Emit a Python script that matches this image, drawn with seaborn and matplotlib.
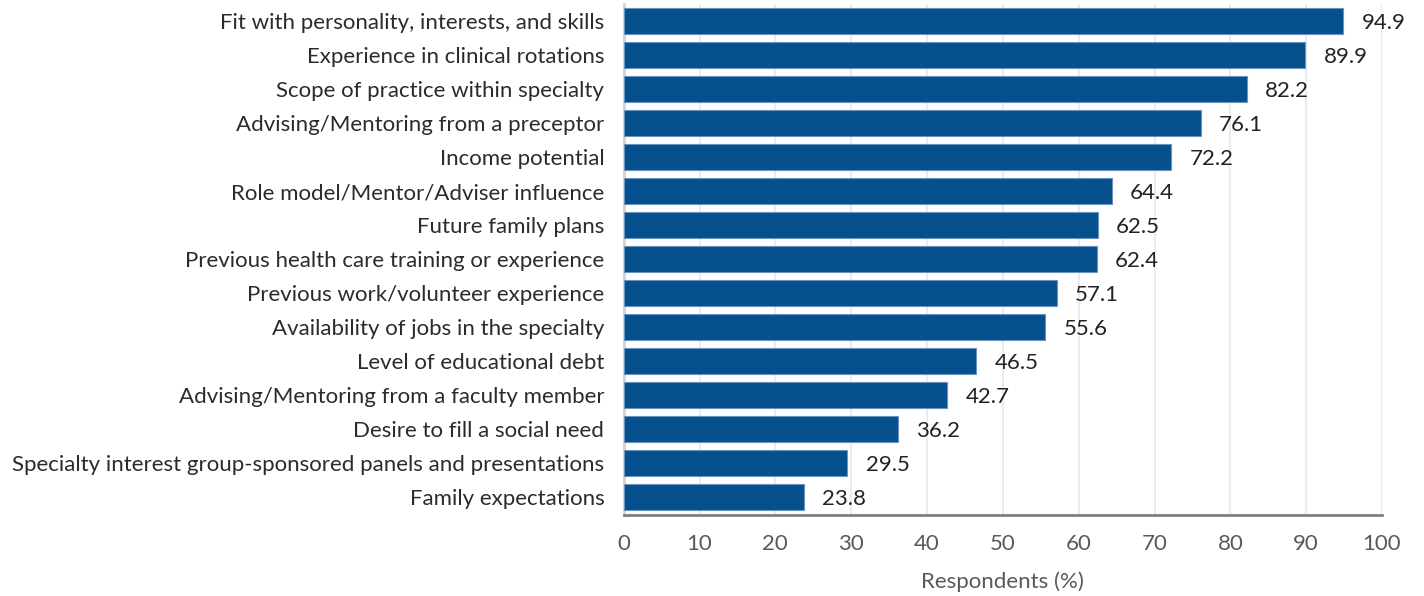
import matplotlib
matplotlib.use("Agg")
import matplotlib.pyplot as plt
import seaborn as sns
import pandas as pd

factors = [
    "Fit with personality, interests, and skills",
    "Experience in clinical rotations",
    "Scope of practice within specialty",
    "Advising/Mentoring from a preceptor",
    "Income potential",
    "Role model/Mentor/Adviser influence",
    "Future family plans",
    "Previous health care training or experience",
    "Previous work/volunteer experience",
    "Availability of jobs in the specialty",
    "Level of educational debt",
    "Advising/Mentoring from a faculty member",
    "Desire to fill a social need",
    "Specialty interest group-sponsored panels and presentations",
    "Family expectations",
]
respondents_pct = [94.9, 89.9, 82.2, 76.1, 72.2, 64.4, 62.5, 62.4, 57.1, 55.6,
                   46.5, 42.7, 36.2, 29.5, 23.8]
x_ticks = [0, 10, 20, 30, 40, 50, 60, 70, 80, 90, 100]
x_label = "Respondents (%)"

df = pd.DataFrame({"factor": factors, "pct": respondents_pct})

sns.set_theme(style="white")
plt.rcParams["font.family"] = ["Lato", "DejaVu Sans"]

fig = plt.figure(figsize=(14.24, 5.96), dpi=100)
ax = fig.add_axes([0.438, 0.136, 0.9705 - 0.438, 0.857])

bar_color = "#05508d"
sns.barplot(data=df, x="pct", y="factor", orient="h", color=bar_color,
            saturation=1, width=0.77, edgecolor="#6a93bf", linewidth=0.8,
            ax=ax, zorder=3)

for patch, val in zip(ax.patches, respondents_pct):
    y = patch.get_y() + patch.get_height() / 2
    ax.text(val + 2.4, y + 0.05, f"{val:.1f}", va="center", ha="left",
            fontsize=16, color="#222222")

ax.set_xlim(0, 100)
ax.set_ylim(len(factors) - 0.47, -0.5)
ax.set_xticks(x_ticks)
ax.set_xticklabels([str(t) for t in x_ticks])
ax.xaxis.grid(True, color="#ececec", linewidth=1.5, zorder=0)
ax.set_axisbelow(True)

ax.tick_params(axis="x", length=0, pad=14, labelsize=16, labelcolor="#595959")
ax.tick_params(axis="y", length=0, pad=14, labelsize=16, labelcolor="#2b2b2b")
ax.set_ylabel("")
ax.set_xlabel(x_label, fontsize=16, color="#595959", labelpad=12)

for side in ["top", "right"]:
    ax.spines[side].set_visible(False)
ax.spines["bottom"].set_color("#7f7f7f")
ax.spines["bottom"].set_linewidth(2)
ax.spines["left"].set_color("#d4d4d4")
ax.spines["left"].set_linewidth(2)

fig.savefig("out.png", dpi=100)
